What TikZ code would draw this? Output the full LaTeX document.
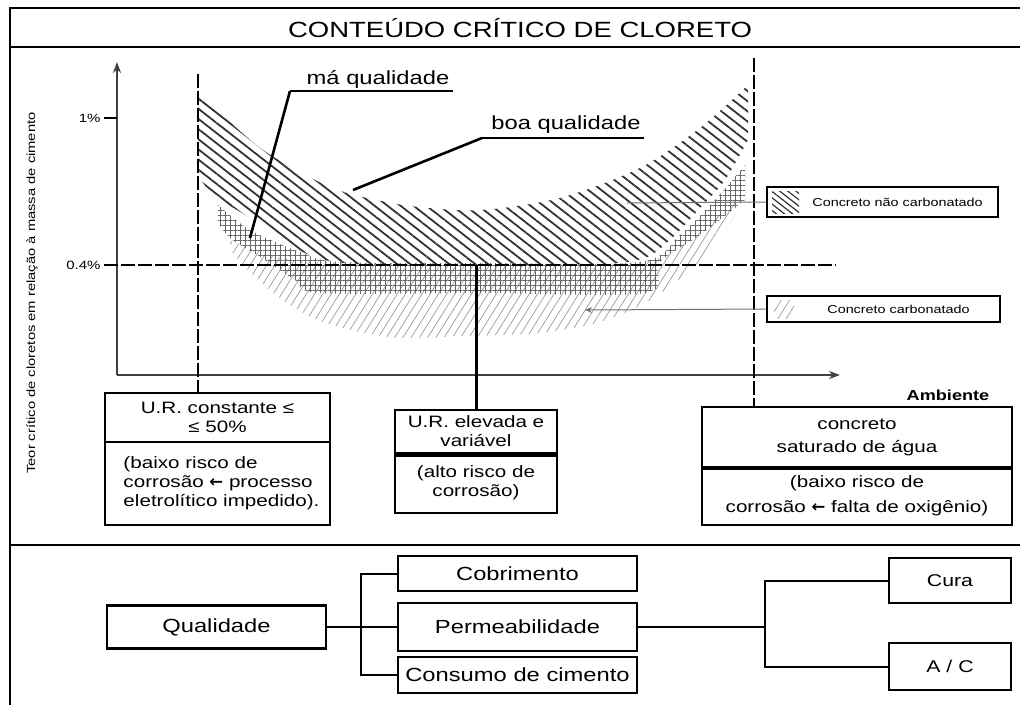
\documentclass[tikz,border=0pt]{standalone}
\usepackage{fontspec}
\setmainfont{Liberation Sans}[FakeStretch=1.25]
\newfontfamily\symfont{DejaVu Sans}
\usetikzlibrary{patterns.meta,arrows.meta}
\newcommand{\setfs}[2]{\fontsize{#1}{#2}\selectfont}
\newcommand{\larrow}{{\symfont\bfseries ←}}
\begin{document}
\begin{tikzpicture}[x=1pt,y=-1pt,
  frame/.style={line width=2pt, black},
  box/.style={draw, line width=2.4pt, inner sep=0pt, align=center, font=\setfs{16.5}{19}},
  bbox/.style={draw, line width=2.4pt, inner sep=0pt, align=center, font=\setfs{19}{22}},
  legbox/.style={draw, line width=2pt, inner sep=0pt, font=\setfs{11.5}{13}},
  leader/.style={line width=2.6pt, black},
  guide/.style={line width=2.6pt, black, dash pattern=on 14pt off 3pt},
  axis/.style={line width=2pt, black!75, -{Stealth[length=11pt,width=8pt]}},
  thinlead/.style={line width=1pt, black!55},
  link/.style={line width=2pt, black},
  hatchA/.style={pattern={Lines[angle=-38,distance=8pt,line width=1.8pt]}, pattern color=black!80},
  gridB/.style={pattern={Hatch[angle=0,distance=5pt,line width=0.9pt]}, pattern color=black!60},
  faintC/.style={pattern={Lines[angle=58,distance=7pt,line width=0.7pt]}, pattern color=black!40},
]
\useasboundingbox (0,0) rectangle (1020,705);
\fill[white] (0,0) rectangle (1020,705);

% outer frame, title band and lower section
\draw[frame] (1020,8) -- (10,8) -- (10,705);
\draw[frame] (10,47) -- (1020,47);
\draw[frame] (10,545) -- (1020,545);
\node[font=\setfs{22}{24}] (title) at (520,28) {CONTEÚDO CRÍTICO DE CLORETO};

% vertical axis title
\node[rotate=90, font=\setfs{11.8}{13}] (ylab) at (32,293)
  {Teor crítico de cloretos em relação à massa de cimento};

% carbonated concrete band (light hatching)
\fill[faintC] plot[smooth] coordinates {(230,240) (270,255) (320,262) (480,263) (640,262) (690,240) (735,200)}
  -- plot[smooth] coordinates {(735,215) (715,245) (693,268) (650,300) (600,322) (540,333) (463,336) (400,338) (350,330) (313,318) (280,298) (250,272) (230,250)}
  -- cycle;
% poor quality band (cross hatching)
\fill[gridB] plot[smooth] coordinates {(218,205) (250,230) (300,252) (340,262) (480,263) (640,262) (680,235) (715,200) (745,165)}
  -- plot[smooth] coordinates {(745,200) (700,235) (660,262) (645,293) (480,293) (320,293) (295,280) (262,258) (230,238) (218,222)}
  -- cycle;
% non-carbonated concrete band (dark hatching)
\fill[hatchA] plot[smooth] coordinates {(198,90) (230,122) (263,150) (305,175) (347,193) (410,206) (480,210) (560,198) (640,168) (700,128) (748,85)}
  -- plot[smooth] coordinates {(748,140) (725,180) (700,208) (672,238) (645,258) (600,264) (480,265) (360,264) (318,258) (280,240) (245,215) (213,195) (198,175)}
  -- cycle;

% axes
\coordinate (O) at (117,375);
\coordinate (ytop) at (117,62);
\coordinate (xend) at (840,375);
\draw[axis] (O) -- (ytop);
\draw[axis] (O) -- (xend);
\coordinate (t1) at (104,118);
\draw[line width=2.6pt] (t1) -- (t1 -| O);
\node[anchor=east, font=\setfs{12}{14}] (l1) at (t1) {1\%};
\coordinate (t4) at (104,265);
\coordinate (t4end) at (836,265);
\draw[guide] (t4) -- (t4end);
\node[anchor=east, font=\setfs{12}{14}] (l4) at (t4) {0.4\%};
\node[font=\bfseries\setfs{14.5}{16}] (amb) at (948,395) {Ambiente};

% environment boxes
\node[box, minimum width=225, minimum height=49] (ur1) at (217.5,417.5) {U.R. constante ≤\\≤ 50\%};
\node[box, minimum width=225, minimum height=83, align=left] (ur1b) at (217.5,483.5)
  {\hspace*{8pt}(baixo risco de\\\hspace*{8pt}corrosão \larrow{} processo\\\hspace*{8pt}eletrolítico impedido).};
\node[box, minimum width=162, minimum height=43] (ur2) at (476,431.5) {U.R. elevada e\\variável};
\node[box, minimum width=162, minimum height=60] (ur2b) at (476,483) {(alto risco de\\corrosão)};
\node[box, minimum width=310, minimum height=60, font=\setfs{16.5}{23}] (sat) at (857,437) {concreto\\saturado de água};
\node[box, minimum width=310, minimum height=58, font=\setfs{16.5}{25}] (satb) at (857,496) {(baixo risco de\\corrosão \larrow{} falta de oxigênio)};
\draw[line width=5pt] (ur2.south west) -- (ur2.south east);
\draw[line width=4pt] (sat.south west) -- (sat.south east);

% guide lines down to the boxes
\coordinate (gl) at (198,74);
\coordinate (gr) at (754,58);
\coordinate (gc) at (476,265);
\draw[guide] (gl) -- (gl |- ur1.north);
\draw[guide] (gr) -- (gr |- sat.north);
\draw[line width=3pt] (gc) -- (ur2.north);

% curve labels
\node[font=\setfs{19}{21}] (ma) at (378,79) {má qualidade};
\coordinate (maknee) at (290,91);
\coordinate (matip) at (250,238);
\draw[line width=2pt] (ma.south east |- maknee) -- (maknee);
\draw[leader] (maknee) -- (matip);
\node[font=\setfs{19}{21}] (boa) at (566,125) {boa qualidade};
\coordinate (boaknee) at (482,138);
\coordinate (boatip) at (353,190);
\draw[line width=2pt] (boa.south east |- boaknee) -- (boaknee);
\draw[leader] (boaknee) -- (boatip);

% legend
\node[legbox, minimum width=231, minimum height=30] (leg1) at (882.5,202) {\hspace*{30pt}Concreto não carbonatado};
\fill[hatchA, pattern={Lines[angle=-38,distance=5pt,line width=1.2pt]}] ([xshift=6pt,yshift=-11pt]leg1.west) rectangle ([xshift=33pt,yshift=11pt]leg1.west);
\node[legbox, minimum width=233, minimum height=26] (leg2) at (883.5,309) {\hspace*{30pt}Concreto carbonatado};
\fill[faintC] ([xshift=8pt,yshift=-9pt]leg2.west) rectangle ([xshift=28pt,yshift=9pt]leg2.west);
\coordinate (c1) at (627,203);
\coordinate (c2) at (585,310);
\draw[thinlead] (c1) -- (leg1.west);
\draw[thinlead, -{Stealth[length=7pt,width=6pt]}] (leg2.west) -- (c2);

% quality factors
\node[bbox, minimum width=219, minimum height=43] (qual) at (216.5,627) {Qualidade};
\node[bbox, minimum width=239, minimum height=35] (cob) at (517.5,573.5) {Cobrimento};
\node[bbox, minimum width=239, minimum height=48] (perm) at (517.5,627) {Permeabilidade};
\node[bbox, minimum width=239, minimum height=36] (cons) at (517.5,675) {Consumo de cimento};
\node[bbox, minimum width=122, minimum height=45, font=\setfs{17}{19}] (cura) at (950,580.5) {Cura};
\node[bbox, minimum width=122, minimum height=47, font=\setfs{17}{19}] (ac) at (950,666.5) {A / C};
\coordinate (jl) at (361,627);
\coordinate (jr) at (765,627);
\draw[link] (qual.east) -- (perm.west);
\draw[link] (cob.west) -| (jl) |- (cons.west);
\draw[link] (perm.east) -- (jr);
\draw[link] (cura.west) -| (jr) |- (ac.west);
\end{tikzpicture}
\end{document}
